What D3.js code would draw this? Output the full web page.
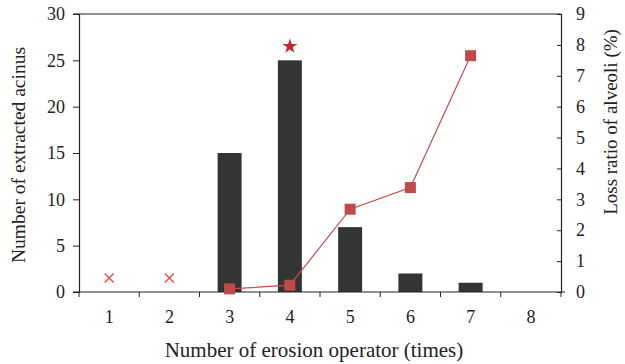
<!DOCTYPE html>
<html>
<head>
<meta charset="utf-8">
<script src="https://cdn.jsdelivr.net/npm/d3@7"></script>
<style>
  html, body { margin: 0; padding: 0; background: #fff; }
  text { font-family: "Liberation Serif", "DejaVu Serif", serif; fill: #222; }
</style>
</head>
<body>
<svg id="chart" width="625" height="364"></svg>
<script>
const categories = [1, 2, 3, 4, 5, 6, 7, 8];
const acinusCount = [null, null, 15, 25, 7, 2, 1, null];
const lossRatio = [null, null, 0.1, 0.22, 2.68, 3.38, 7.65, null];
const failedRuns = [1, 2];
const failedLevel = 1.5;
const bestRun = 4;
const bestLevel = 26.5;
const leftTicks = [0, 5, 10, 15, 20, 25, 30];
const rightTicks = [0, 1, 2, 3, 4, 5, 6, 7, 8, 9];

const margin = { top: 14, right: 64, bottom: 72, left: 79 };
const width = 625 - margin.left - margin.right;
const height = 364 - margin.top - margin.bottom;

const svg = d3.select("#chart");
const chart = svg.append("g")
  .attr("transform", `translate(${margin.left}, ${margin.top})`);

const x = d3.scaleBand()
  .domain(categories)
  .range([0, width]);

const yLeft = d3.scaleLinear().domain([0, 30]).range([height, 0]);
const yRight = d3.scaleLinear().domain([0, 9]).range([height, 0]);

// bars
const barWidth = 24;
chart.selectAll(".bar")
  .data(categories.map((c, i) => ({ c, v: acinusCount[i] })).filter(d => d.v != null))
  .enter()
  .append("rect")
  .attr("class", "bar")
  .attr("x", d => x(d.c) + x.bandwidth() / 2 - barWidth / 2)
  .attr("y", d => yLeft(d.v))
  .attr("width", barWidth)
  .attr("height", d => height - yLeft(d.v))
  .style("fill", "#333534");

// top border
chart.append("line")
  .attr("x1", -6).attr("x2", width)
  .attr("y1", 0).attr("y2", 0)
  .style("stroke", "#222")
  .style("stroke-width", 1.2);

// left axis
const leftAxis = chart.append("g")
  .call(d3.axisLeft(yLeft).tickValues(leftTicks).tickSize(6).tickPadding(8));

// right axis
const rightAxis = chart.append("g")
  .attr("transform", `translate(${width}, 0)`)
  .call(d3.axisRight(yRight).tickValues(rightTicks).tickSize(-4));

// bottom axis: ticks at band boundaries
const xAxis = chart.append("g")
  .attr("transform", `translate(0, ${height})`)
  .call(d3.axisBottom(x).tickSize(0).tickPadding(18));
xAxis.selectAll(".bound")
  .data(d3.range(categories.length + 1))
  .enter()
  .append("line")
  .attr("class", "bound")
  .attr("x1", i => i * x.step())
  .attr("x2", i => i * x.step())
  .attr("y1", 0)
  .attr("y2", 5)
  .style("stroke", "#222");
xAxis.select(".domain").attr("d", `M-6,0H${width + 4}`);

[leftAxis, rightAxis, xAxis].forEach(a => {
  a.selectAll(".domain").style("stroke", "#222").style("stroke-width", 1.2);
  a.selectAll(".tick line").style("stroke", "#222");
  a.selectAll("text")
    .style("font-family", '"Liberation Serif", serif')
    .style("font-size", "18px")
    .style("fill", "#222");
});
rightAxis.selectAll("text").attr("x", 15);

// loss ratio line
const lossData = categories.map((c, i) => ({ c, v: lossRatio[i] })).filter(d => d.v != null);
const line = d3.line()
  .x(d => x(d.c) + x.bandwidth() / 2)
  .y(d => yRight(d.v));
chart.append("path")
  .datum(lossData)
  .attr("d", line)
  .style("fill", "none")
  .style("stroke", "#c0504d")
  .style("stroke-width", 1.2);
chart.selectAll(".sq")
  .data(lossData)
  .enter()
  .append("rect")
  .attr("class", "sq")
  .attr("x", d => x(d.c) + x.bandwidth() / 2 - 5.5)
  .attr("y", d => yRight(d.v) - 5.5)
  .attr("width", 11)
  .attr("height", 11)
  .style("fill", "#bd4b4b");

// failed runs
chart.selectAll(".cross")
  .data(failedRuns)
  .enter()
  .append("path")
  .attr("class", "cross")
  .attr("transform", d => `translate(${x(d) + x.bandwidth() / 2}, ${yLeft(failedLevel)})`)
  .attr("d", "M-4.5,-4.5L4.5,4.5M-4.5,4.5L4.5,-4.5")
  .style("stroke", "#ec4a4a")
  .style("stroke-width", 1.4)
  .style("fill", "none");

// best run
chart.append("path")
  .attr("transform", `translate(${x(bestRun) + x.bandwidth() / 2}, ${yLeft(bestLevel)})`)
  .attr("d", d3.symbol().type(d3.symbolStar).size(70)())
  .style("fill", "#c0262d");

// titles
svg.append("text")
  .attr("x", 314)
  .attr("y", 357)
  .attr("text-anchor", "middle")
  .style("font-size", "21px")
  .text("Number of erosion operator (times)");

svg.append("text")
  .attr("transform", `translate(25, ${margin.top + height / 2 + 2}) rotate(-90)`)
  .attr("text-anchor", "middle")
  .style("font-size", "19.5px")
  .text("Number of extracted acinus");

svg.append("text")
  .attr("transform", `translate(617, 122) rotate(-90)`)
  .attr("text-anchor", "middle")
  .style("font-size", "19px")
  .text("Loss ratio of alveoli (%)");
</script>
</body>
</html>
